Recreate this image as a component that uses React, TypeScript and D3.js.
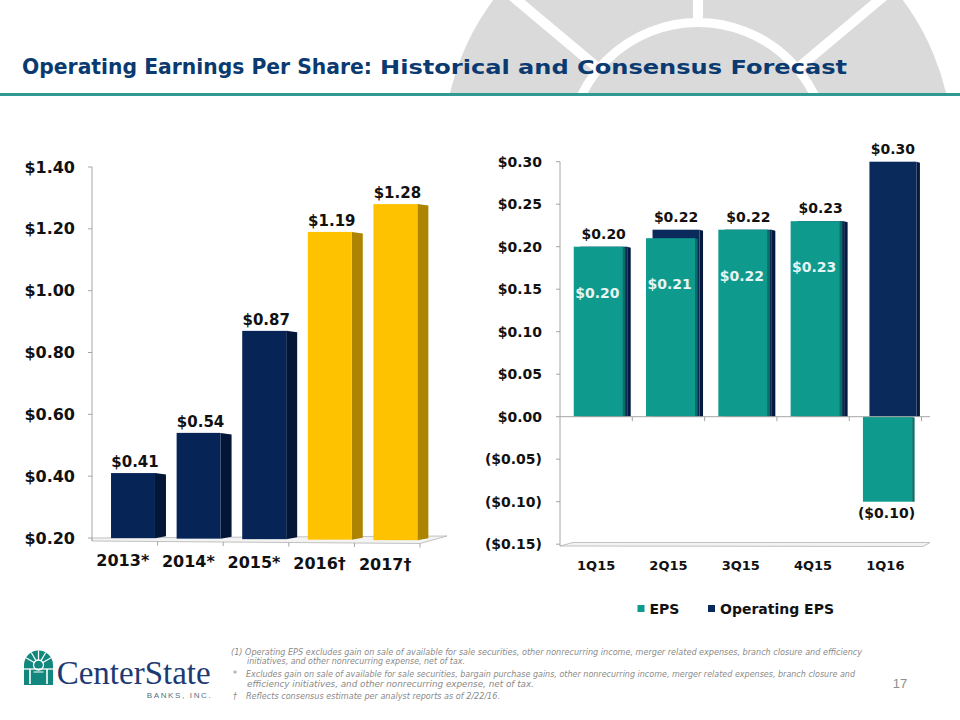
import React from 'react';
import * as d3 from 'd3';

// ---------- data ----------
const annualCategories = ['2013*', '2014*', '2015*', '2016†', '2017†'];
const annualEPS = [0.41, 0.54, 0.87, 1.19, 1.28];
const annualForecast = [false, false, false, true, true];
const annualTicks = [0.2, 0.4, 0.6, 0.8, 1.0, 1.2, 1.4];

const quarters = ['1Q15', '2Q15', '3Q15', '4Q15', '1Q16'];
const quarterEPS = [0.2, 0.21, 0.22, 0.23, -0.1];
const quarterOpEPS = [0.2, 0.22, 0.22, 0.23, 0.3];
const quarterTicks = [0.3, 0.25, 0.2, 0.15, 0.1, 0.05, 0, -0.05, -0.1, -0.15];

const legendLabels = ['EPS', 'Operating EPS'];

const footnoteLines = [
  { sym: '', text: '(1) Operating EPS excludes gain on sale of available for sale securities, other nonrecurring income, merger related expenses, branch closure and efficiency', len: 631 },
  { sym: '', text: 'initiatives, and other nonrecurring expense, net of tax.', len: 218 },
  { sym: '*', text: 'Excludes gain on sale of available for sale securities, bargain purchase gains, other nonrecurring income, merger related expenses, branch closure and', len: 609 },
  { sym: '', text: 'efficiency initiatives, and other nonrecurring expense, net of tax.', len: 287 },
  { sym: '†', text: 'Reflects consensus estimate per analyst reports as of 2/22/16.', len: 254 },
];

const NAVY = '#072457';
const NAVY_SIDE = '#031638';
const GOLD = '#fec200';
const GOLD_SIDE = '#ad8400';
const TEAL = '#0f9a8e';
const TEAL_SIDE = '#0a6f67';
const OP = '#0b2a5c';
const OP_SIDE = '#051a3d';
const FONT = '"DejaVu Sans", Verdana, sans-serif';

const fmt = (v: number) => (v < 0 ? `($${Math.abs(v).toFixed(2)})` : `$${v.toFixed(2)}`);

export default function App() {
  // ----- left chart -----
  const yL = d3.scaleLinear().domain([0.2, 1.4]).range([538, 167]);
  const xL = d3.scaleBand<string>().domain(annualCategories).range([92, 420]);
  const bwL = xL.bandwidth();
  const floorFrontL = (x: number) => 541 + ((x - 92) / 328) * 2.5;

  // ----- right chart -----
  const yR = d3.scaleLinear().domain([-0.15, 0.3]).range([544.2, 161.7]);
  const xR = d3.scaleBand<string>().domain(quarters).range([560, 921.5]);
  const bwR = xR.bandwidth();
  const epsX = (q: string) => (xR(q) as number) + bwR * 0.19;
  const epsW = bwR * 0.68;
  const opX = (q: string) => epsX(q) + 6.5;
  const opW = bwR * 0.65;

  const fanAngles = [-50, 0, 50];
  const cx = 698, cy = 152;

  return (
    <svg width={960} height={720} viewBox="0 0 960 720" style={{ position: 'absolute', left: 0, top: 0, display: 'block', background: '#fff' }}>
      <defs>
        <clipPath id="hdrClip"><rect x={0} y={0} width={960} height={93} /></clipPath>
      </defs>

      {/* header decoration */}
      <g clipPath="url(#hdrClip)">
        <circle cx={cx} cy={cy} r={255} fill="#dadada" />
        {fanAngles.map((a) => {
          const r = (a * Math.PI) / 180;
          return (
            <line key={a} x1={cx + 134 * Math.sin(r)} y1={cy - 134 * Math.cos(r)} x2={cx + 320 * Math.sin(r)} y2={cy - 320 * Math.cos(r)} stroke="#fff" strokeWidth={10} />
          );
        })}
        <circle cx={cx} cy={cy} r={129.5} fill="none" stroke="#fff" strokeWidth={9} />
      </g>
      <rect x={0} y={93} width={960} height={3} fill="#2e9a92" />

      {/* title */}
      <text x={22} y={74} fontFamily={FONT} fontWeight="bold" fontSize={22} fill="#0a3a70" textLength={350} lengthAdjust="spacingAndGlyphs">Operating Earnings Per Share:</text>
      <text x={380} y={74} fontFamily={FONT} fontWeight="bold" fontSize={19} fill="#0a3a70" textLength={467} lengthAdjust="spacingAndGlyphs">Historical  and  Consensus  Forecast</text>

      {/* ===== LEFT CHART ===== */}
      <g>
        <polygon points={`92,538 447,536 420,543.5 92,541`} fill="#f3f3f3" stroke="#b3b3b3" strokeWidth={0.8} />
        <line x1={92} y1={167} x2={92} y2={541} stroke="#a6a6a6" strokeWidth={1} />
        {annualTicks.map((t) => (
          <g key={t}>
            <line x1={88} x2={92} y1={yL(t)} y2={yL(t)} stroke="#a6a6a6" />
            <text x={75} y={yL(t) + 5.5} textAnchor="end" fontFamily={FONT} fontWeight="bold" fontSize={16} fill="#111">{fmt(t)}</text>
          </g>
        ))}
        {annualCategories.map((c) => {
          const x = (xL(c) as number) + bwL;
          const fy = floorFrontL(x);
          return <line key={c} x1={x} x2={x} y1={fy} y2={fy + 4} stroke="#a6a6a6" />;
        })}
        {annualCategories.map((c, i) => {
          const v = annualEPS[i];
          const x0 = (xL(c) as number) + bwL * 0.29;
          const w = bwL * 0.67;
          const top = yL(v);
          const bottom = floorFrontL(x0) - 3;
          const side = 11;
          const front = annualForecast[i] ? GOLD : NAVY;
          const sideC = annualForecast[i] ? GOLD_SIDE : NAVY_SIDE;
          return (
            <g key={c}>
              <polygon points={`${x0 + w},${top} ${x0 + w + side},${top + 1.5} ${x0 + w + side},${bottom - 2} ${x0 + w},${bottom}`} fill={sideC} />
              <rect x={x0} y={top} width={w} height={bottom - top} fill={front} />
              <text x={x0 + w / 2 + 2} y={top - 6} textAnchor="middle" fontFamily={FONT} fontWeight="bold" fontSize={15} fill="#111">{fmt(v)}</text>
            </g>
          );
        })}
        {annualCategories.map((c, i) => (
          <text key={c} x={(xL(c) as number) + bwL / 2 - 2} y={566 + i * 0.9} textAnchor="middle" fontFamily={FONT} fontWeight="bold" fontSize={16} fill="#111">{c}</text>
        ))}
      </g>

      {/* ===== RIGHT CHART ===== */}
      <g>
        <polygon points={`560,546 923,546.5 930,542.5 573,542.5`} fill="#f3f3f3" stroke="#b3b3b3" strokeWidth={0.8} />
        <line x1={560} y1={161.7} x2={560} y2={546} stroke="#a6a6a6" />
        {quarterTicks.map((t) => (
          <g key={t}>
            <line x1={556} x2={560} y1={yR(t)} y2={yR(t)} stroke="#a6a6a6" />
            <text x={542} y={yR(t) + 5} textAnchor="end" fontFamily={FONT} fontWeight="bold" fontSize={14} fill="#111">{fmt(t)}</text>
          </g>
        ))}
        {quarters.map((q, i) => {
          const v = quarterOpEPS[i];
          const x0 = opX(q);
          const t = yR(Math.max(0, v));
          const b = yR(Math.min(0, v));
          return (
            <g key={q}>
              <polygon points={`${x0 + opW},${t} ${x0 + opW + 3.5},${t + 1} ${x0 + opW + 3.5},${b} ${x0 + opW},${b}`} fill={OP_SIDE} />
              <rect x={x0} y={t} width={opW} height={b - t} fill={OP} />
            </g>
          );
        })}
        {quarters.map((q, i) => {
          const v = quarterEPS[i];
          const x0 = epsX(q);
          const t = yR(Math.max(0, v));
          const b = yR(Math.min(0, v));
          return (
            <g key={q}>
              <polygon points={`${x0 + epsW},${t} ${x0 + epsW + 2.5},${t + 1} ${x0 + epsW + 2.5},${b} ${x0 + epsW},${b}`} fill={TEAL_SIDE} />
              <rect x={x0} y={t} width={epsW} height={b - t} fill={TEAL} />
            </g>
          );
        })}
        <line x1={560} x2={930} y1={yR(0)} y2={yR(0)} stroke="#a6a6a6" />
        {quarters.map((q) => {
          const x = (xR(q) as number) + bwR;
          return <line key={q} x1={x} x2={x} y1={yR(0)} y2={yR(0) + 4.5} stroke="#a6a6a6" />;
        })}
        {quarters.map((q, i) => {
          const v = quarterOpEPS[i];
          return (
            <text key={'op' + q} x={opX(q) + opW / 2} y={yR(v) - 8} textAnchor="middle" fontFamily={FONT} fontWeight="bold" fontSize={14} fill="#111">{fmt(v)}</text>
          );
        })}
        {quarters.map((q, i) => {
          const v = quarterEPS[i];
          const neg = v < 0;
          return (
            <text key={'eps' + q} x={epsX(q) + epsW / 2 - 1} y={neg ? yR(v) + 16 : yR(v) + 51} textAnchor="middle" fontFamily={FONT} fontWeight="bold" fontSize={14} fill={neg ? '#111' : '#e6f4f2'}>{fmt(v)}</text>
          );
        })}
        {quarters.map((q) => (
          <text key={'x' + q} x={(xR(q) as number) + bwR / 2} y={569.5} textAnchor="middle" fontFamily={FONT} fontWeight="bold" fontSize={13} fill="#111">{q}</text>
        ))}
        <rect x={637.5} y={605} width={7} height={7} fill={TEAL} />
        <text x={649.5} y={613.5} fontFamily={FONT} fontWeight="bold" fontSize={14} fill="#111">{legendLabels[0]}</text>
        <rect x={708} y={605} width={7} height={7} fill={OP} />
        <text x={720} y={613.5} fontFamily={FONT} fontWeight="bold" fontSize={14} fill="#111">{legendLabels[1]}</text>
      </g>

      {/* footnotes */}
      <g fontFamily={FONT} fontStyle="italic" fontSize={8} fill="#8a8a8a">
        {footnoteLines.map((l, i) => {
          const y = [655, 664, 677, 687, 699][i];
          const x = l.sym ? 246 : i === 0 ? 231 : 247;
          return (
            <g key={i}>
              {l.sym && <text x={233} y={y}>{l.sym}</text>}
              <text x={x} y={y} textLength={l.len} lengthAdjust="spacingAndGlyphs">{l.text}</text>
            </g>
          );
        })}
      </g>
      <text x={900} y={688} textAnchor="middle" fontFamily='"Liberation Sans", Arial, sans-serif' fontSize={13} fill="#8e8e8e">17</text>

      {/* logo */}
      <g>
        <path d="M24,685 L24,665 A14.5,14.5 0 0 1 53,665 L53,685 Z" fill="#12877d" />
        {[-60, -30, 0, 30, 60].map((a) => {
          const r = (a * Math.PI) / 180;
          return <line key={a} x1={38.5 + 5 * Math.sin(r)} y1={665 - 5 * Math.cos(r)} x2={38.5 + 14.5 * Math.sin(r)} y2={665 - 14.5 * Math.cos(r)} stroke="#fff" strokeWidth={1.2} />;
        })}
        <circle cx={38.5} cy={665} r={5} fill="none" stroke="#fff" strokeWidth={1.3} />
        <line x1={24} x2={53} y1={669} y2={669} stroke="#fff" strokeWidth={1.3} />
        <line x1={30} x2={30} y1={669} y2={684} stroke="#fff" strokeWidth={1.6} />
        <line x1={47} x2={47} y1={669} y2={684} stroke="#fff" strokeWidth={1.6} />
        <line x1={33.5} x2={43.5} y1={672} y2={672} stroke="#fff" strokeWidth={1} />
        <text x={56.7} y={684} fontFamily='"Liberation Serif", "Times New Roman", serif' fontSize={33} fill="#1d3a73" textLength={154} lengthAdjust="spacingAndGlyphs">CenterState</text>
        <text x={146.7} y={697.5} fontFamily='"Liberation Sans", Arial, sans-serif' fontSize={8} fill="#55707e" textLength={64} lengthAdjust="spacing">BANKS, INC.</text>
      </g>
    </svg>
  );
}
